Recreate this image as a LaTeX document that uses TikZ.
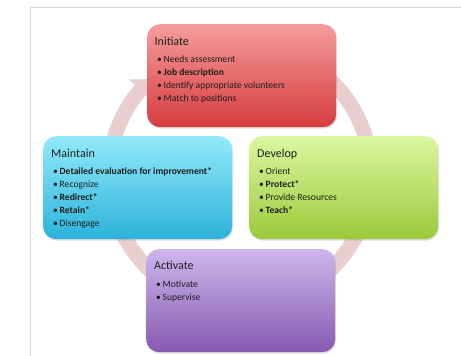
\documentclass[tikz,border=0pt]{standalone}
\usepackage{fontspec}
\setmainfont{Carlito}
\usetikzlibrary{arrows.meta,bending,shadows,calc}
\definecolor{ringc}{RGB}{232,206,207}
\definecolor{frame}{RGB}{215,215,215}
\definecolor{txt}{RGB}{30,30,30}
\definecolor{redT}{RGB}{246,156,156}
\definecolor{redB}{RGB}{214,60,62}
\definecolor{cyanT}{RGB}{146,234,250}
\definecolor{cyanB}{RGB}{44,178,217}
\definecolor{greenT}{RGB}{219,247,160}
\definecolor{greenB}{RGB}{154,202,58}
\definecolor{purpT}{RGB}{206,182,236}
\definecolor{purpB}{RGB}{134,90,176}
\tikzset{
  box/.style={rectangle, rounded corners=13pt, draw=none, inner sep=0pt,
    minimum width=189pt, minimum height=103pt, anchor=north west,
    drop shadow={shadow xshift=0.8pt, shadow yshift=-1.5pt, opacity=0.25}},
  ttl/.style={anchor=base west, inner sep=0pt, font=\fontsize{12}{14}\selectfont, text=txt},
  itm/.style={anchor=base west, inner sep=0pt, font=\fontsize{9.6}{12}\selectfont, text=txt},
  ringarrow/.style={draw=ringc, line width=15pt, -{Triangle[width=30pt,length=15pt,flex]}}
}
\newcommand\bul[1]{\makebox[6.5pt][l]{•}#1}
\begin{document}
\begin{tikzpicture}[x=1pt,y=1pt]
\useasboundingbox (0,0) rectangle (461,356);
\fill[white] (0,0) rectangle (461,356);
\coordinate (fc) at (30.3,0);
\coordinate (fa) at (30.3,349);
\coordinate (fb) at (461,349);
\draw[frame, line width=0.8pt] (fc) -- (fa) -- (fb);
% ring
\coordinate (rc) at (240,181);
\draw[ringarrow] ($(rc)+(80:131)$) arc[start angle=80, end angle=-227, radius=131];
% boxes
\node[box, top color=redT, bottom color=redB] (init) at (147,332) {};
\node[box, top color=cyanT, bottom color=cyanB] (maint) at (43,220) {};
\node[box, top color=greenT, bottom color=greenB] (dev) at (249,220) {};
\node[box, top color=purpT, bottom color=purpB] (act) at (146,107) {};
% Initiate
\node[ttl] (i0) at ($(init.north west)+(7.5,-21.5)$) {Initiate};
\node[itm] (i1) at ($(init.north west)+(10,-38.7)$) {\bul{Needs assessment}};
\node[itm] (i2) at ($(init.north west)+(10,-51.7)$) {\bul{\textbf{Job description}}};
\node[itm] (i3) at ($(init.north west)+(10,-64.7)$) {\bul{Identify appropriate volunteers}};
\node[itm] (i4) at ($(init.north west)+(10,-77.7)$) {\bul{Match to positions}};
% Maintain
\node[ttl] (m0) at ($(maint.north west)+(8,-21.5)$) {Maintain};
\node[itm] (m1) at ($(maint.north west)+(10,-39)$) {\bul{\textbf{Detailed evaluation for improvement*}}};
\node[itm] (m2) at ($(maint.north west)+(10,-52)$) {\bul{Recognize}};
\node[itm] (m3) at ($(maint.north west)+(10,-65)$) {\bul{\textbf{Redirect*}}};
\node[itm] (m4) at ($(maint.north west)+(10,-78)$) {\bul{\textbf{Retain*}}};
\node[itm] (m5) at ($(maint.north west)+(10,-91)$) {\bul{Disengage}};
% Develop
\node[ttl] (d0) at ($(dev.north west)+(8,-21.5)$) {Develop};
\node[itm] (d1) at ($(dev.north west)+(10,-39)$) {\bul{Orient}};
\node[itm] (d2) at ($(dev.north west)+(10,-52)$) {\bul{\textbf{Protect*}}};
\node[itm] (d3) at ($(dev.north west)+(10,-65)$) {\bul{Provide Resources}};
\node[itm] (d4) at ($(dev.north west)+(10,-78)$) {\bul{\textbf{Teach*}}};
% Activate
\node[ttl] (a0) at ($(act.north west)+(8,-20.5)$) {Activate};
\node[itm] (a1) at ($(act.north west)+(10,-38.5)$) {\bul{Motivate}};
\node[itm] (a2) at ($(act.north west)+(10,-51.5)$) {\bul{Supervise}};
\end{tikzpicture}
\end{document}
